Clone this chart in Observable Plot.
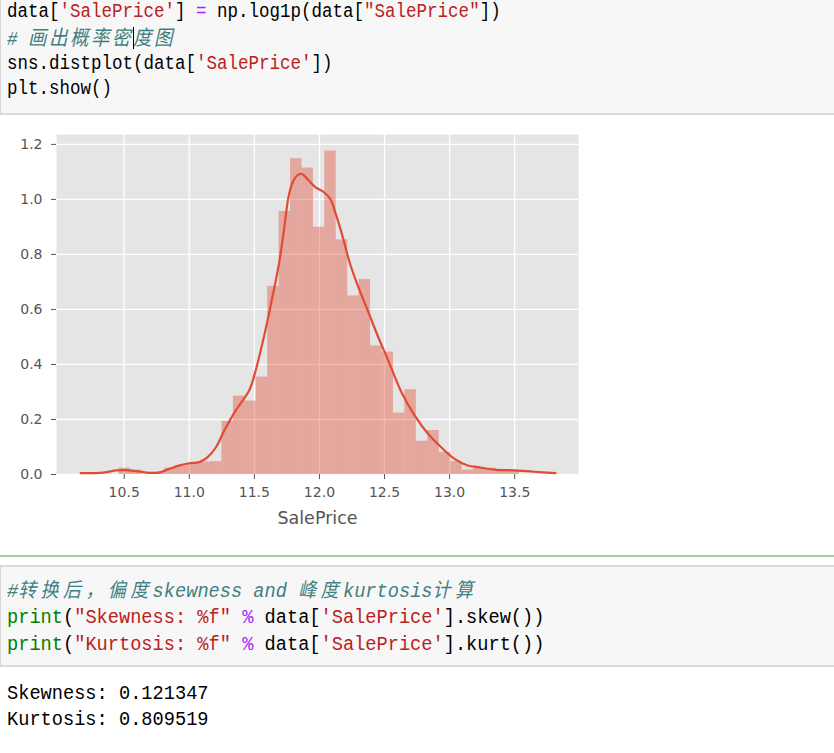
<!DOCTYPE html>
<html>
<head>
<meta charset="utf-8">
<script src="https://cdn.jsdelivr.net/npm/d3@7"></script>
<script src="https://cdn.jsdelivr.net/npm/@observablehq/plot@0.6"></script>
<style>
  html, body { margin: 0; padding: 0; }
  body { width: 834px; height: 753px; position: relative; overflow: hidden; background: #fff;
         font-family: "Liberation Mono", "DejaVu Sans Mono", monospace; color: #000; }
  .cell { position: absolute; left: 0; width: 834px; background: #f7f7f7; box-sizing: border-box; }
  .block { position: absolute; left: 7px; white-space: pre; }
  .line { display: block; transform: scaleY(1.12); transform-origin: 0 50%; }
  .top .line { height: 25.8px; line-height: 25.8px; font-size: 17.5px; }
  .top .cjk { font-size: 18.5px; letter-spacing: 2.5px; }
  .bot .line { height: 27px; line-height: 27px; font-size: 18.67px; }
  .out .line { height: 26.5px; line-height: 26.5px; font-size: 18.67px; }
  .bot .cjk { font-size: 18px; letter-spacing: 4.4px; }
  .cjk { font-family: "Noto Sans CJK SC", sans-serif; }
  .n { color: #000; }
  .s { color: #BA2121; }
  .o { color: #AA22FF; }
  .b { color: #008000; }
  .c { color: #408080; font-style: italic; position: relative; top: -2px; }
  #chart { position: absolute; left: 0; top: 120px; width: 834px; }
  #chart svg { display: block; }
  #chart g[aria-label="x-axis label"] text { font-size: 17.5px; }
</style>
</head>
<body>
<div class="cell" style="top:0; height:115px; border-left:1px solid #d5d5d5; border-bottom:2px solid #d9d9d9;"></div>
<div class="block top" id="code1" style="top:0;"></div>
<div style="position:absolute; left:132.5px; top:27px; width:1.5px; height:22px; background:#000;"></div>

<div id="chart"></div>

<div style="position:absolute; left:0; top:555px; width:834px; height:2px; background:#9dcf9d;"></div>

<div class="cell" style="top:565px; height:102px; border-top:2px solid #d9d9d9; border-bottom:2px solid #d9d9d9; border-left:1px solid #d5d5d5;"></div>
<div class="block bot" id="code2" style="top:576.5px;"></div>
<div class="block out" id="out" style="top:679.5px;"></div>

<script>
// ---------- text content ----------
const code1 = [
  [["data[", "n"], ["'SalePrice'", "s"], ["] ", "n"], ["=", "o"], [" np.log1p(data[", "n"], ["\"SalePrice\"", "s"], ["])", "n"]],
  [["# 画出概率密度图", "c"]],
  [["sns.distplot(data[", "n"], ["'SalePrice'", "s"], ["])", "n"]],
  [["plt.show()", "n"]]
];
const code2 = [
  [["#转换后，偏度skewness and 峰度kurtosis计算", "c"]],
  [["print", "b"], ["(", "n"], ["\"Skewness: %f\"", "s"], [" ", "n"], ["%", "o"], [" data[", "n"], ["'SalePrice'", "s"], ["].skew())", "n"]],
  [["print", "b"], ["(", "n"], ["\"Kurtosis: %f\"", "s"], [" ", "n"], ["%", "o"], [" data[", "n"], ["'SalePrice'", "s"], ["].kurt())", "n"]]
];
const outputLines = ["Skewness: 0.121347", "Kurtosis: 0.809519"];

// ---------- chart data ----------
const binEdges = [10.460, 10.548, 10.636, 10.724, 10.812, 10.900, 10.987, 11.075, 11.163, 11.251,
                  11.339, 11.427, 11.514, 11.602, 11.690, 11.778, 11.866, 11.954, 12.041, 12.129,
                  12.217, 12.305, 12.393, 12.481, 12.569, 12.656, 12.744, 12.832, 12.920, 13.008,
                  13.096, 13.183, 13.271, 13.359, 13.447, 13.535];
const density = [0.023, 0.016, 0.000, 0.008, 0.023, 0.031, 0.039, 0.045, 0.047, 0.193,
                 0.285, 0.267, 0.354, 0.684, 0.956, 1.148, 1.114, 0.899, 1.176, 0.853,
                 0.649, 0.709, 0.467, 0.445, 0.223, 0.308, 0.121, 0.160, 0.081, 0.047,
                 0.016, 0.023, 0.023, 0.016, 0.016];
const kdeX = [10.166, 10.340, 10.441, 10.505, 10.594, 10.696, 10.773, 10.849, 10.925, 11.002,
              11.078, 11.141, 11.205, 11.269, 11.357, 11.460, 11.510, 11.561, 11.612, 11.689,
              11.727, 11.760, 11.790, 11.828, 11.861, 11.918, 11.968, 12.032, 12.082, 12.121,
              12.172, 12.235, 12.299, 12.376, 12.452, 12.528, 12.630, 12.731, 12.834, 12.935,
              13.037, 13.139, 13.215, 13.342, 13.495, 13.647, 13.813];
const kdeY = [0.005, 0.007, 0.015, 0.016, 0.012, 0.006, 0.008, 0.021, 0.033, 0.041,
              0.045, 0.063, 0.099, 0.160, 0.233, 0.305, 0.378, 0.475, 0.584, 0.766,
              0.887, 1.003, 1.057, 1.087, 1.093, 1.069, 1.045, 1.027, 1.003, 0.954,
              0.875, 0.766, 0.681, 0.590, 0.499, 0.415, 0.299, 0.215, 0.148, 0.099,
              0.057, 0.033, 0.027, 0.018, 0.015, 0.010, 0.005];
const xTicks = [10.5, 11.0, 11.5, 12.0, 12.5, 13.0, 13.5];
const yTicks = [0.0, 0.2, 0.4, 0.6, 0.8, 1.0, 1.2];
const xLabel = "SalePrice";

// ---------- render code text ----------
const cjkRe = /([\u3000-\u303f\u4e00-\u9fff\uff00-\uffef]+)/;
function renderBlock(el, lines) {
  for (const segs of lines) {
    const line = document.createElement("span");
    line.className = "line";
    for (const [txt, cls] of segs) {
      const span = document.createElement("span");
      span.className = cls;
      for (const part of txt.split(cjkRe)) {
        if (!part) continue;
        if (cjkRe.test(part)) {
          const c = document.createElement("span");
          c.className = "cjk";
          c.textContent = part;
          span.appendChild(c);
        } else {
          span.appendChild(document.createTextNode(part));
        }
      }
      line.appendChild(span);
    }
    el.appendChild(line);
  }
}
renderBlock(document.getElementById("code1"), code1);
renderBlock(document.getElementById("code2"), code2);
renderBlock(document.getElementById("out"), outputLines.map(t => [[t, "n"]]));

// ---------- chart ----------
const bars = density.map((d, i) => ({x1: binEdges[i], x2: binEdges[i + 1], y: d}));
const kde = kdeX.map((x, i) => ({x, y: kdeY[i]}));

const chart = Plot.plot({
  width: 600,
  height: 420,
  marginLeft: 56,
  marginRight: 22,
  marginTop: 14,
  marginBottom: 66,
  style: {fontFamily: "DejaVu Sans", fontSize: "14px", color: "#555", background: "transparent"},
  x: {domain: [9.98, 13.99]},
  y: {domain: [0, 1.236]},
  marks: [
    Plot.frame({fill: "#E5E5E5", stroke: "none"}),
    Plot.gridX(xTicks, {stroke: "white", strokeOpacity: 1, strokeWidth: 1.3}),
    Plot.gridY(yTicks, {stroke: "white", strokeOpacity: 1, strokeWidth: 1.3}),
    Plot.rect(bars, {x1: "x1", x2: "x2", y1: 0, y2: "y", fill: "#E24A33", fillOpacity: 0.4}),
    Plot.line(kde, {x: "x", y: "y", stroke: "#E24A33", strokeWidth: 2.2, curve: "catmull-rom"}),
    Plot.axisX(xTicks, {tickFormat: d3.format(".1f"), tickSize: 5, tickPadding: 8,
      label: xLabel, labelAnchor: "center", labelArrow: "none", labelOffset: 49}),
    Plot.axisY(yTicks, {tickFormat: d3.format(".1f"), tickSize: 5, tickPadding: 9, label: null})
  ]
});
document.getElementById("chart").appendChild(chart);
</script>
</body>
</html>
